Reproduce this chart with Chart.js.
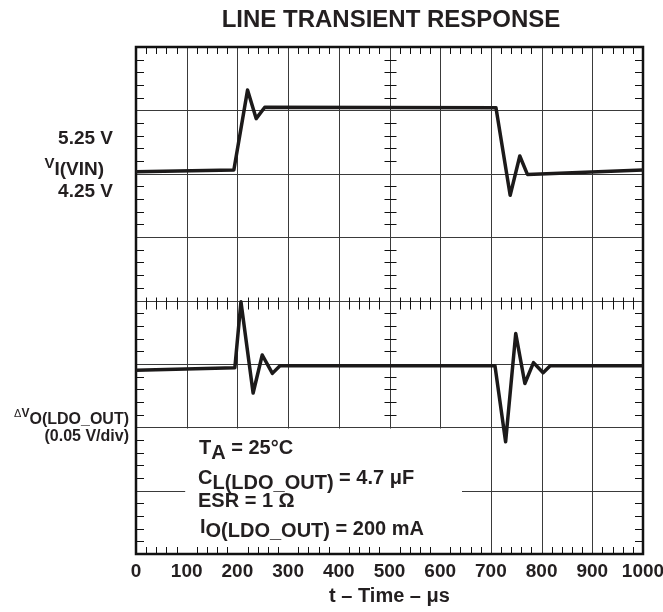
<!DOCTYPE html>
<html>
<head>
<meta charset="utf-8">
<title>Line Transient Response</title>
<script src="https://cdn.jsdelivr.net/npm/chart.js@4.4.1/dist/chart.umd.min.js"></script>
<style>
  body { margin: 0; background: #fff; }
  canvas { display: block; }
</style>
</head>
<body>
<canvas id="transientChart" width="663" height="612"></canvas>
<script>
// values are in scope divisions (screen is 8 div tall, 0 = bottom)
const timeIn = [0, 193, 220, 237, 254, 710, 738, 757, 772, 1000];
const vinDiv = [6.03, 6.06, 7.32, 6.87, 7.05, 7.04, 5.66, 6.28, 5.99, 6.06];

const timeOut = [0, 195, 207, 231, 249, 269, 284, 708, 729, 749, 767, 784, 803, 817, 1000];
const voutDiv = [2.90, 2.94, 3.98, 2.54, 3.14, 2.85, 2.97, 2.97, 1.77, 3.48, 2.69, 3.02, 2.86, 2.97, 2.97];

const timeTicks = [0, 100, 200, 300, 400, 500, 600, 700, 800, 900, 1000];

const FONT = '"Liberation Sans", Arial, Helvetica, sans-serif';
const INK = '#231f20';

// draw text pieces side by side (for subscripts), anchored left or right
function drawRuns(ctx, x, runs, align) {
    const widths = runs.map(r => {
        ctx.font = (r.weight || 'bold') + ' ' + r.size + 'px ' + FONT;
        return ctx.measureText(r.text).width;
    });
    const total = widths.reduce((a, b) => a + b, 0);
    let cx = align === 'right' ? x - total : x;
    runs.forEach((r, i) => {
        ctx.font = (r.weight || 'bold') + ' ' + r.size + 'px ' + FONT;
        ctx.fillText(r.text, cx, r.base);
        cx += widths[i];
    });
}

const scopeGrid = {
    id: 'scopeGrid',
    beforeDatasetsDraw(chart) {
        const { ctx, chartArea: a, scales: { x, y } } = chart;
        const snap = v => Math.round(v) + 0.5;
        ctx.save();

        // major divisions
        ctx.strokeStyle = '#3a3a3a';
        ctx.lineWidth = 1;
        ctx.beginPath();
        for (let t = 100; t < 1000; t += 100) {
            const px = snap(x.getPixelForValue(t));
            ctx.moveTo(px, a.top);
            ctx.lineTo(px, a.bottom);
        }
        for (let d = 1; d < 8; d++) {
            const py = snap(y.getPixelForValue(d));
            ctx.moveTo(a.left, py);
            ctx.lineTo(a.right, py);
        }
        ctx.stroke();

        // minor ticks on the centre cross
        const cx = snap(x.getPixelForValue(500));
        const cy = snap(y.getPixelForValue(4));
        ctx.strokeStyle = '#111';
        ctx.beginPath();
        for (let i = 1; i < 50; i++) {
            if (i % 5 === 0) continue;
            const px = snap(x.getPixelForValue(i * 20));
            ctx.moveTo(px, cy - 4);
            ctx.lineTo(px, cy + 8);
        }
        for (let i = 1; i < 40; i++) {
            if (i % 5 === 0) continue;
            const py = snap(y.getPixelForValue(i * 0.2));
            ctx.moveTo(cx - 6, py);
            ctx.lineTo(cx + 6, py);
        }
        ctx.stroke();

        // blank area behind the test conditions
        const bx0 = x.getPixelForValue(97);
        const bx1 = x.getPixelForValue(643);
        const by0 = y.getPixelForValue(1.98);
        ctx.fillStyle = '#fff';
        ctx.fillRect(bx0, by0, bx1 - bx0, a.bottom - by0);

        // minor ticks along the frame
        ctx.beginPath();
        for (let i = 1; i < 50; i++) {
            if (i % 5 === 0) continue;
            const px = snap(x.getPixelForValue(i * 20));
            ctx.moveTo(px, a.top);
            ctx.lineTo(px, a.top + 7);
            ctx.moveTo(px, a.bottom);
            ctx.lineTo(px, a.bottom - 7);
        }
        for (let i = 1; i < 40; i++) {
            if (i % 5 === 0) continue;
            const py = snap(y.getPixelForValue(i * 0.2));
            ctx.moveTo(a.left, py);
            ctx.lineTo(a.left + 8, py);
            ctx.moveTo(a.right, py);
            ctx.lineTo(a.right - 8, py);
        }
        ctx.stroke();

        ctx.strokeStyle = '#111';
        ctx.lineWidth = 2.5;
        ctx.strokeRect(a.left, a.top, a.right - a.left, a.bottom - a.top);
        ctx.restore();
    },
    afterDatasetsDraw(chart) {
        const { ctx } = chart;
        ctx.save();
        ctx.fillStyle = INK;
        ctx.textBaseline = 'alphabetic';

        ctx.textAlign = 'center';
        ctx.font = 'bold 24px ' + FONT;
        ctx.fillText('LINE TRANSIENT RESPONSE', 391, 27);

        ctx.textAlign = 'left';
        drawRuns(ctx, 113, [{ text: '5.25 V', size: 19, base: 144 }], 'right');
        drawRuns(ctx, 104, [
            { text: 'V', size: 15, base: 168 },
            { text: 'I(VIN)', size: 19, base: 175 }
        ], 'right');
        drawRuns(ctx, 113, [{ text: '4.25 V', size: 19, base: 197 }], 'right');

        drawRuns(ctx, 129, [
            { text: '\u0394', size: 11, base: 417, weight: 'normal' },
            { text: 'V', size: 12, base: 417 },
            { text: 'O(LDO_OUT)', size: 16, base: 424 }
        ], 'right');
        drawRuns(ctx, 129, [{ text: '(0.05 V/div)', size: 16, base: 441 }], 'right');

        drawRuns(ctx, 199, [
            { text: 'T', size: 20, base: 454 },
            { text: 'A', size: 20, base: 459 },
            { text: ' = 25\u00B0C', size: 20, base: 454 }
        ]);
        drawRuns(ctx, 198, [
            { text: 'C', size: 20, base: 484 },
            { text: 'L(LDO_OUT)', size: 20, base: 489 },
            { text: ' = 4.7 \u03BCF', size: 20, base: 484 }
        ]);
        drawRuns(ctx, 198, [{ text: 'ESR = 1 \u03A9', size: 20, base: 507 }]);
        drawRuns(ctx, 200, [
            { text: 'I', size: 20, base: 533 },
            { text: 'O(LDO_OUT)', size: 20, base: 537 },
            { text: ' = 200 mA', size: 20, base: 535 }
        ]);
        ctx.restore();
    }
};

document.addEventListener('DOMContentLoaded', () => {
    const ctx = document.getElementById('transientChart').getContext('2d');

    const traceStyle = {
        borderColor: '#1c1a1a',
        borderWidth: 3.5,
        borderJoinStyle: 'round',
        borderCapStyle: 'round',
        pointRadius: 0,
        tension: 0,
        fill: false
    };

    new Chart(ctx, {
        type: 'line',
        data: {
            datasets: [
                { label: 'VI(VIN)', data: timeIn.map((t, i) => ({ x: t, y: vinDiv[i] })), ...traceStyle },
                { label: 'ΔVO(LDO_OUT)', data: timeOut.map((t, i) => ({ x: t, y: voutDiv[i] })), ...traceStyle }
            ]
        },
        options: {
            responsive: false,
            animation: false,
            events: [],
            layout: { padding: { left: 136, right: 20, top: 47, bottom: 0 } },
            plugins: {
                legend: { display: false },
                tooltip: { enabled: false }
            },
            scales: {
                x: {
                    type: 'linear',
                    min: 0,
                    max: 1000,
                    afterBuildTicks: s => { s.ticks = timeTicks.map(v => ({ value: v })); },
                    afterFit: s => { s.height = 58; s.paddingLeft = 0; s.paddingRight = 0; },
                    grid: { display: false },
                    border: { display: false },
                    ticks: {
                        autoSkip: false,
                        maxRotation: 0,
                        padding: -2,
                        color: INK,
                        callback: v => String(v),
                        font: { family: FONT, size: 19, weight: 'bold' }
                    },
                    title: {
                        display: true,
                        text: 't \u2013 Time \u2013 \u03BCs',
                        color: INK,
                        padding: { top: 0, bottom: 4 },
                        font: { family: FONT, size: 20, weight: 'bold', lineHeight: 1.2 }
                    }
                },
                y: {
                    display: false,
                    min: 0,
                    max: 8
                }
            }
        },
        plugins: [scopeGrid]
    });
});
</script>
</body>
</html>
